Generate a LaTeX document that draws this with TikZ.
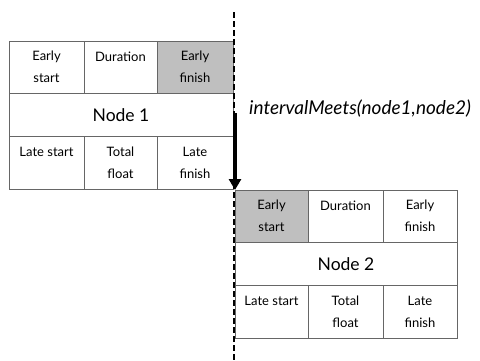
\documentclass[tikz,border=0pt]{standalone}
\usepackage{fontspec}
\setmainfont{Lato}
\usetikzlibrary{arrows.meta, positioning}

\begin{document}
\begin{tikzpicture}[
  x=1pt, y=-1pt,
  node distance=0pt,
  cell/.style={rectangle, draw=black!60, line width=0.8pt, inner sep=0pt,
               outer sep=0pt, minimum height=52.5pt, align=center,
               font=\fontsize{13}{22}\selectfont},
  namecell/.style={cell, minimum height=43pt, font=\fontsize{17.5}{20}\selectfont},
  shaded/.style={fill=black!25},
  arrow/.style={-{Triangle[length=11pt, width=12pt]}, line width=3.5pt},
  timeline/.style={line width=1.4pt, dash pattern=on 6pt off 3pt}
]
  \useasboundingbox (0,0) rectangle (480,360);
  % Node 1
  \node[cell, minimum width=75pt, anchor=north west] (es1) at (9,41) {Early\\start};
  \node[cell, minimum width=73pt, right=of es1] (dur1) {Duration\\\mbox{}};
  \node[cell, shaded, minimum width=76pt, right=of dur1] (ef1) {Early\\finish};
  \node[namecell, minimum width=224pt, below=of es1.south west, anchor=north west] (name1) {Node 1};
  \node[cell, minimum width=75pt, below=of name1.south west, anchor=north west] (ls1) {Late start\\\mbox{}};
  \node[cell, minimum width=73pt, right=of ls1] (tf1) {Total\\float};
  \node[cell, minimum width=76pt, right=of tf1] (lf1) {Late\\finish};
  % Node 2
  \node[cell, shaded, minimum width=73pt, anchor=north west] (es2) at (235,190) {Early\\start};
  \node[cell, minimum width=75pt, right=of es2] (dur2) {Duration\\\mbox{}};
  \node[cell, minimum width=74pt, right=of dur2] (ef2) {Early\\finish};
  \node[namecell, minimum width=222pt, below=of es2.south west, anchor=north west] (name2) {Node 2};
  \node[cell, minimum width=73pt, below=of name2.south west, anchor=north west] (ls2) {Late start\\\mbox{}};
  \node[cell, minimum width=75pt, right=of ls2] (tf2) {Total\\float};
  \node[cell, minimum width=74pt, right=of tf2] (lf2) {Late\\finish};
  % time line and relation
  \coordinate (ttop) at (234,12);
  \coordinate (tbot) at (234,360);
  \coordinate (astart) at (235,113);
  \draw[timeline] (ttop) -- (tbot);
  \draw[arrow] (astart) -- (es2.north west);
  \node[anchor=west, inner sep=0pt, font=\fontsize{19}{20}\selectfont\itshape] (rel) at (249,109) {intervalMeets(node1,node2)};
\end{tikzpicture}
\end{document}
